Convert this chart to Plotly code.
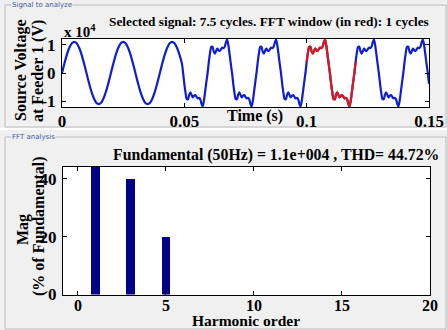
import numpy as np
import plotly.graph_objects as go

# ---------------- data ----------------
# pure sine part, 1 ms steps from 0 to 0.049 s (units of 1e4 V)
time_sine = np.round(np.arange(0, 0.0495, 0.001), 4)
volt_sine = [
    0.00, 0.34, 0.65, 0.89, 1.05, 1.10, 1.05, 0.89, 0.65, 0.34,
    0.00, -0.34, -0.65, -0.89, -1.05, -1.10, -1.05, -0.89, -0.65, -0.34,
    0.00, 0.34, 0.65, 0.89, 1.05, 1.10, 1.05, 0.89, 0.65, 0.34,
    0.00, -0.34, -0.65, -0.89, -1.05, -1.10, -1.05, -0.89, -0.65, -0.34,
    0.00, 0.34, 0.65, 0.89, 1.05, 1.10, 1.05, 0.89, 0.65, 0.34,
]
# distorted part, 0.5 ms steps from 0.0495 to 0.15 s
time_dist = np.round(np.arange(0.0495, 0.15001, 0.0005), 4)
volt_dist = [
    -0.00, -0.38, -0.70, -0.92, -0.93, -0.76, -0.68, -0.78, -0.86, -0.80,
    -0.78, -0.84, -0.90, -0.88, -0.93, -1.08, -1.18, -0.98, -0.66, -0.32,
    0.00, 0.38, 0.70, 0.92, 0.93, 0.76, 0.68, 0.78, 0.86, 0.80,
    0.78, 0.84, 0.90, 0.88, 0.93, 1.08, 1.18, 0.98, 0.66, 0.32,
    -0.00, -0.38, -0.70, -0.92, -0.93, -0.76, -0.68, -0.78, -0.86, -0.80,
    -0.78, -0.84, -0.90, -0.88, -0.93, -1.08, -1.18, -0.98, -0.66, -0.32,
    0.00, 0.38, 0.70, 0.92, 0.93, 0.76, 0.68, 0.78, 0.86, 0.80,
    0.78, 0.84, 0.90, 0.88, 0.93, 1.08, 1.18, 0.98, 0.66, 0.32,
    -0.00, -0.38, -0.70, -0.92, -0.93, -0.76, -0.68, -0.78, -0.86, -0.80,
    -0.78, -0.84, -0.90, -0.88, -0.93, -1.08, -1.18, -0.98, -0.66, -0.32,
    0.00, 0.38, 0.70, 0.92, 0.93, 0.76, 0.68, 0.78, 0.86, 0.80,
    0.78, 0.84, 0.90, 0.88, 0.93, 1.08, 1.18, 0.98, 0.66, 0.32,
    -0.00, -0.38, -0.70, -0.92, -0.93, -0.76, -0.68, -0.78, -0.86, -0.80,
    -0.78, -0.84, -0.90, -0.88, -0.93, -1.08, -1.18, -0.98, -0.66, -0.32,
    0.00, 0.38, 0.70, 0.92, 0.93, 0.76, 0.68, 0.78, 0.86, 0.80,
    0.78, 0.84, 0.90, 0.88, 0.93, 1.08, 1.18, 0.98, 0.66, 0.32,
    -0.00, -0.38, -0.70, -0.92, -0.93, -0.76, -0.68, -0.78, -0.86, -0.80,
    -0.78, -0.84, -0.90, -0.88, -0.93, -1.08, -1.18, -0.98, -0.66, -0.32,
    0.00, 0.38, 0.70, 0.92, 0.93, 0.76, 0.68, 0.78, 0.86, 0.80,
    0.78, 0.84, 0.90, 0.88, 0.93, 1.08, 1.18, 0.98, 0.66, 0.32,
    -0.00, -0.38,
]
fft_window = [0.10, 0.12]

harmonic_order = list(range(0, 21))
harmonic_mag = [0, 100, 0, 40, 0, 20, 0, 0, 0, 0, 0,
                0, 0, 0, 0, 0, 0, 0, 0, 0, 0]

top_title = "Selected signal: 7.5 cycles. FFT window (in red): 1 cycles"
bottom_title = "Fundamental (50Hz) = 1.1e+004 , THD= 44.72%"

# ---------------- figure ----------------
t_all = np.concatenate([time_sine, time_dist])
v_all = np.array(volt_sine + volt_dist)
mask = (t_all >= fft_window[0] - 1e-9) & (t_all <= fft_window[1] + 1e-9)

W, H = 447, 330
def px(x):
    return x / W
def py(y):
    return 1 - y / H

SERIF = "Liberation Serif"
BLUE = "rgb(15,30,205)"
RED = "rgb(220,25,25)"
PANEL = "#f0f0f0"

fig = go.Figure()
fig.add_trace(go.Scatter(x=t_all, y=v_all, mode="lines",
                         line=dict(color=BLUE, width=2.2, shape="spline", smoothing=0.8),
                         xaxis="x", yaxis="y", hoverinfo="skip"))
fig.add_trace(go.Scatter(x=t_all[mask], y=v_all[mask], mode="lines",
                         line=dict(color=RED, width=2.2, shape="spline", smoothing=0.8),
                         xaxis="x", yaxis="y", hoverinfo="skip"))
fig.add_trace(go.Bar(x=harmonic_order, y=harmonic_mag, width=0.5,
                     marker=dict(color="rgb(0,0,135)", line=dict(width=0)),
                     xaxis="x2", yaxis="y2", hoverinfo="skip"))

tickfont = dict(family=SERIF, size=17, color="black", weight="bold")
axis_common = dict(showline=True, linecolor="black", linewidth=1, mirror="ticks",
                   ticks="inside", ticklen=4, tickcolor="black", showgrid=False,
                   zeroline=False, automargin=False)

fig.update_layout(
    width=W, height=H,
    margin=dict(l=0, r=0, t=0, b=0),
    paper_bgcolor=PANEL, plot_bgcolor="white",
    showlegend=False,
    xaxis=dict(domain=[px(62), px(429)], anchor="y", range=[0, 0.15],
               tickvals=[0, 0.05, 0.1, 0.15], ticktext=["0", "0.05", "0.1", "0.15"],
               ticklabelstandoff=-1, tickfont=tickfont, **axis_common),
    yaxis=dict(domain=[py(107), py(39)], anchor="x", range=[-1.2, 1.2],
               tickvals=[-1, 0, 1], ticktext=["-1", "0", "1"], ticklabelstandoff=2,
               tickfont=tickfont, **axis_common),
    xaxis2=dict(domain=[px(63), px(430)], anchor="y2", range=[-0.85, 20],
                tickvals=[0, 5, 10, 15, 20], ticklabelstandoff=-4,
                tickfont=dict(tickfont, size=16), **axis_common),
    yaxis2=dict(domain=[py(294.5), py(167)], anchor="x2", range=[0, 44],
                tickvals=[0, 20, 40], ticklabelstandoff=2, tickfont=tickfont,
                **axis_common),
    bargap=0,
)

# panel frames (group boxes)
frame_col = "#bcbcbc"
shapes = [
    dict(type="rect", xref="paper", yref="paper", x0=px(5), x1=px(446), y0=py(127), y1=py(5),
         line=dict(color=frame_col, width=1), fillcolor="rgba(0,0,0,0)", layer="below"),
    dict(type="rect", xref="paper", yref="paper", x0=px(5), x1=px(446), y0=py(329), y1=py(137),
         line=dict(color=frame_col, width=1), fillcolor="rgba(0,0,0,0)", layer="below"),
    dict(type="line", xref="paper", yref="paper", x0=0, x1=1, y0=py(129), y1=py(129),
         line=dict(color="white", width=2), layer="below"),
]
fig.update_layout(shapes=shapes)

lab = dict(family=SERIF, size=16, color="black", weight="bold")
ann = [
    dict(text="Signal to analyze", x=px(11), y=py(5), xanchor="left", yanchor="middle",
         font=dict(family="DejaVu Sans", size=7, color="#3a5a9a"), bgcolor=PANEL, borderpad=0),
    dict(text="FFT analysis", x=px(11), y=py(137), xanchor="left", yanchor="middle",
         font=dict(family="DejaVu Sans", size=7, color="#3a5a9a"), bgcolor=PANEL, borderpad=0),
    dict(text=top_title, x=px(269), y=py(22), xanchor="center", yanchor="middle",
         font=dict(family=SERIF, size=13.3, color="black", weight="bold")),
    dict(text="x 10<sup>4</sup>", x=px(62), y=py(31), xanchor="left", yanchor="middle",
         font=dict(family=SERIF, size=15, color="black", weight="bold")),
    dict(text="Time (s)", x=px(255), y=py(116), xanchor="center", yanchor="middle", font=lab),
    dict(text="Source Voltage", x=px(21), y=py(71), xanchor="center", yanchor="middle",
         textangle=-90, font=lab),
    dict(text="at Feeder 1 (V)", x=px(38), y=py(71), xanchor="center", yanchor="middle",
         textangle=-90, font=lab),
    dict(text=bottom_title, x=px(276), y=py(155), xanchor="center", yanchor="middle",
         font=dict(family=SERIF, size=15.8, color="black", weight="bold")),
    dict(text="Harmonic order", x=px(246), y=py(330), xanchor="center", yanchor="bottom",
         font=dict(lab, size=15.5), borderpad=0),
    dict(text="Mag", x=px(23), y=py(230), xanchor="center", yanchor="middle",
         textangle=-90, font=lab),
    dict(text="(% of Fundamental)", x=px(39), y=py(226), xanchor="center", yanchor="middle",
         textangle=-90, font=lab),
]
for a in ann:
    a.setdefault("xref", "paper")
    a.setdefault("yref", "paper")
    a.setdefault("showarrow", False)
fig.update_layout(annotations=ann)

fig.write_html("out.html")
